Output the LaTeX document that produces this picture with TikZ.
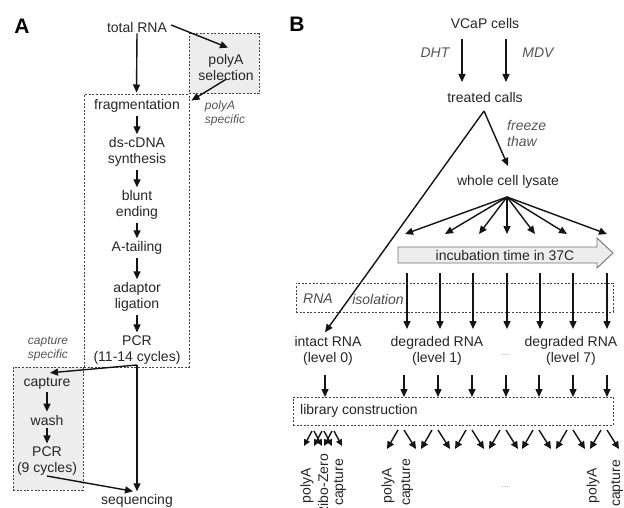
\documentclass[tikz,border=0pt]{standalone}
\usepackage{fontspec}
\setmainfont{Liberation Sans}
\usetikzlibrary{arrows.meta,calc}

\definecolor{txt}{HTML}{262626}
\definecolor{itx}{HTML}{555555}
\definecolor{boxfill}{HTML}{EDEDED}
\definecolor{dashc}{HTML}{444444}
\definecolor{arrc}{HTML}{141414}

\tikzset{
 lbl/.style={font=\fontsize{14}{16}\selectfont, text=txt, inner sep=1pt, align=center},
 note/.style={font=\fontsize{12}{14}\selectfont\itshape, text=itx, inner sep=1pt, align=left},
 inote/.style={font=\fontsize{14}{16}\selectfont\itshape, text=itx, inner sep=1pt, align=left},
 panel/.style={font=\fontsize{21}{24}\selectfont\bfseries, text=black, inner sep=0pt},
 dbox/.style={draw=dashc, line width=1pt, dash pattern=on 2pt off 1.6pt, inner sep=0pt},
 arr/.style={draw=arrc, line width=1.4pt, -{Triangle[length=8pt,width=7pt]}},
 sarr/.style={arr, shorten <=2pt, shorten >=2pt},
 barr/.style={arr, line width=1.4pt, -{Triangle[length=7.5pt,width=7pt]}},
 rot/.style={lbl, rotate=90, anchor=east},
 dots/.style={font=\fontsize{9}{10}\selectfont, text=black!40, inner sep=0pt},
}

\begin{document}
\begin{tikzpicture}[x=1pt,y=-1pt]
\clip (0,0) rectangle (624,508);
\fill[white] (0,0) rectangle (624,508);

% ---------------- Panel A ----------------
\node[panel] (labA) at (22,26) {A};

\node[dbox, fill=boxfill, minimum width=70pt, minimum height=60pt] (polybox) at (224,64) {};
\node[dbox, minimum width=105pt, minimum height=272pt] (mainbox) at (136.5,231) {};
\node[dbox, fill=boxfill, minimum width=70pt, minimum height=123pt] (capbox) at (48,428.5) {};

\node[lbl] (total) at (137,27) {total RNA};
\node[lbl] (polysel) at (226,67) {polyA\\selection};
\node[note] (pspec) at (225,113) {polyA\\specific};

\node[lbl] (frag) at (137,106) {fragmentation};
\node[lbl] (dscdna) at (137,152) {ds-cDNA\\synthesis};
\node[lbl] (blunt) at (137,205) {blunt\\ending};
\node[lbl] (atail) at (137,248) {A-tailing};
\node[lbl] (adaptor) at (137,297) {adaptor\\ligation};
\node[lbl] (pcra) at (137,350) {PCR\\(11-14 cycles)};

\node[note] (cspec) at (48,349) {capture\\specific};
\node[lbl] (capture) at (47,383) {capture};
\node[lbl] (wash) at (47,420) {wash};
\node[lbl] (pcrb) at (47,461) {PCR\\(9 cycles)};
\node[lbl] (seq) at (137,501) {sequencing};

\coordinate (pcrbot) at (137,365);
\coordinate (pcrbbot) at (47,476);

\draw[arr] ($(total.east)+(3,-2)$) -- ($(polysel.north)+(2,-5)$);
\draw[arr] (total.south) -- ($(mainbox.north)+(0,-2)$);
\draw[arr] ($(polysel.south)+(0,-2)$) -- ($(mainbox.north east)+(2,6)$);
\draw[sarr] (frag) -- (dscdna);
\draw[sarr] (dscdna) -- (blunt);
\draw[sarr] (blunt) -- (atail);
\draw[sarr] (atail) -- (adaptor);
\draw[sarr] (adaptor) -- (pcra);
\draw[arr] (pcrbot) -- ($(capture.north)+(3,-3)$);
\draw[arr] (pcrbot) -- ($(seq.north)+(0,-2)$);
\draw[sarr] (capture) -- (wash);
\draw[sarr] (wash) -- (pcrb);
\draw[arr] (pcrbbot) -- ($(seq.north)+(-4,-2)$);

% ---------------- Panel B ----------------
\node[panel] (labB) at (297,24) {B};

\node[lbl] (vcap) at (485,23) {VCaP cells};
\node[inote] (dht) at (435,53) {DHT};
\node[inote] (mdv) at (538,53) {MDV};
\node[lbl] (treated) at (485,97) {treated calls};
\node[inote, anchor=west] (freeze) at (506,133) {freeze\\thaw};
\node[lbl] (lysate) at (508,182) {whole cell lysate};

\coordinate (v1a) at (462,39); \coordinate (v1b) at (462,82);
\coordinate (v2a) at (506,39); \coordinate (v2b) at (506,82);
\draw[arr] (v1a) -- (v1b);
\draw[arr] (v2a) -- (v2b);

\coordinate (split) at (484,111);
\coordinate (lysin) at (508,166);
\draw[arr] (split) -- (lysin);

% incubation block arrow
\draw[draw=black!55, line width=0.9pt, fill=boxfill]
  (398,247) -- (597,247) -- (597,238) -- (613,253) -- (597,268) -- (597,263) -- (398,263) -- cycle;
\node[lbl] (incub) at (505,255) {incubation time in 37C};

% RNA isolation box
\node[dbox, minimum width=317pt, minimum height=29pt] (isobox) at (454.5,297.5) {};
\node[inote, text=black!70] (rnaw) at (318,299) {RNA};
\node[inote, text=black!70] (isow) at (378,299) {isolation};

% library construction box
\node[dbox, minimum width=320pt, minimum height=28pt] (libbox) at (453,411) {};
\node[lbl, anchor=west] (libtxt) at (299,411) {library construction};

% fan from lysate
\coordinate (fan) at (507,197);
\foreach \i/\x in {1/405,2/445,3/479,4/507,5/535,6/567,7/607}{
  \coordinate (f\i) at (\x,234);
  \draw[arr] (fan) -- (f\i);
}

% vertical arrows through RNA isolation
\foreach \i/\x in {1/407,2/440,3/473,4/507,5/540,6/573,7/607}{
  \coordinate (ta\i) at (\x,273);
  \coordinate (tb\i) at (\x,329);
  \draw[arr] (ta\i) -- (tb\i);
}

% RNA level nodes
\node[lbl] (intact) at (328,351) {intact RNA\\(level 0)};
\node[lbl] (deg1) at (437,351) {degraded RNA\\(level 1)};
\node[dots] (dotsa) at (505,355) {...};
\node[lbl] (deg7) at (571,351) {degraded RNA\\(level 7)};

\draw[arr] (split) -- ($(intact.north)+(-3,-3)$);

% short arrows into library construction
\foreach \i/\x in {0/325,1/404,2/438,3/472,4/506,5/539,6/573,7/607}{
  \coordinate (sa\i) at (\x,375);
  \coordinate (sb\i) at (\x,397);
  \draw[arr] (sa\i) -- (sb\i);
}

% bottom split arrows
\foreach \i/\x in {1/404,2/438,3/472,4/506,5/539,6/573,7/607}{
  \coordinate (ls\i) at (\x-6,430); \coordinate (le\i) at (\x-17,449);
  \coordinate (rs\i) at (\x,430);   \coordinate (re\i) at (\x+12,449);
  \draw[barr] (ls\i) -- (le\i);
  \draw[barr] (rs\i) -- (re\i);
}
% intact bundle
\foreach \i/\x in {1/312,2/322,3/332}{
  \coordinate (ils\i) at (\x,431); \coordinate (ile\i) at (\x-8,446);
  \coordinate (irs\i) at (\x+2,431); \coordinate (ire\i) at (\x+10,446);
  \draw[barr, -{Triangle[length=6.5pt,width=6pt]}] (ils\i) -- (ile\i);
  \draw[barr, -{Triangle[length=6.5pt,width=6pt]}] (irs\i) -- (ire\i);
}

% rotated labels
\node[rot] (r1) at (307,467) {polyA};
\node[rot] (r2) at (323,453) {Ribo-Zero};
\node[rot] (r3) at (340,458) {capture};
\node[rot] (r4) at (388,467) {polyA};
\node[rot] (r5) at (407,458) {capture};
\node[rot] (r6) at (593,467) {polyA};
\node[rot] (r7) at (617,459) {capture};
\node[dots] (dotsb) at (505,487) {...};
\end{tikzpicture}
\end{document}
